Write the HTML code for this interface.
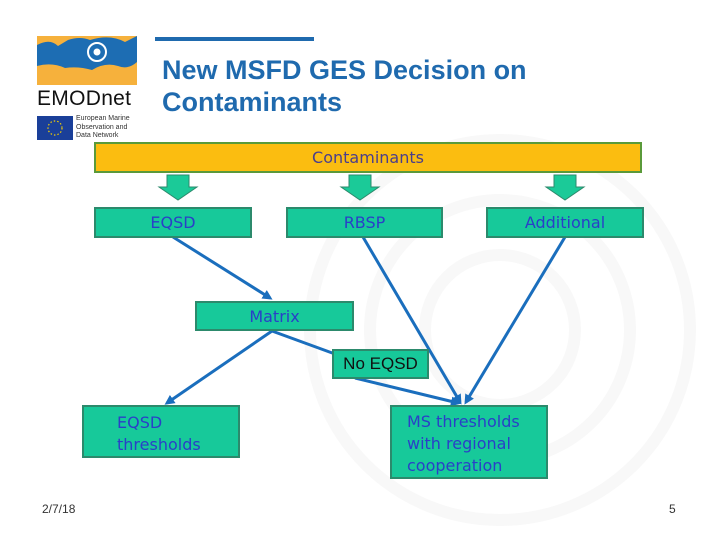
<!DOCTYPE html>
<html><head><meta charset="utf-8"><style>
body{margin:0;width:720px;height:540px;background:#fff;position:relative;overflow:hidden;font-family:"Liberation Sans",sans-serif}
.b{position:absolute;background:#17c99a;border:2px solid #2c8a6c;box-sizing:border-box;color:#2a3fc8;font-family:"DejaVu Sans","Liberation Sans",sans-serif;font-size:16px}
.c{display:flex;align-items:center;justify-content:center}
.t{position:absolute;left:162px;color:#1f6aae;font-weight:bold;font-size:27px;line-height:32px;font-family:"Liberation Sans",Arial,sans-serif}
</style></head><body>
<svg width="720" height="540" style="position:absolute;left:0;top:0">
<g fill="none" stroke="#f8f8f8" stroke-width="12">
<circle cx="500" cy="330" r="190"/><circle cx="500" cy="330" r="130"/><circle cx="500" cy="330" r="75"/>
</g>
<rect x="155" y="37" width="159" height="4" fill="#1f6aae"/>
<path d="M37 36 L137 36 L137 85 L37 85 Z" fill="#f6b13c"/>
<path d="M37 45 Q50 38 58 46 L68 40 Q80 36 90 40 Q110 34 125 42 L137 36 L137 62 Q128 70 118 66 Q105 62 92 70 Q78 66 65 68 Q52 62 37 66 Z" fill="#1d6db3"/>
<circle cx="97" cy="52" r="9" fill="none" stroke="#fff" stroke-width="2"/><circle cx="97" cy="52" r="3.5" fill="#fff"/>
<rect x="37" y="116" width="36" height="24" fill="#1a3f99"/>
<circle cx="55" cy="128" r="7" fill="none" stroke="#f5d000" stroke-width="1.2" stroke-dasharray="1.5 2"/>
<g fill="#1bca98" stroke="#2c8a6c" stroke-width="1">
<path d="M167 175h22v12h8l-19 13l-19-13h8z"/>
<path d="M349 175h22v12h8l-19 13l-19-13h8z"/>
<path d="M554 175h22v12h8l-19 13l-19-13h8z"/>
</g>
<defs><marker id="a" markerWidth="10" markerHeight="10" refX="7" refY="5" orient="auto" markerUnits="userSpaceOnUse"><path d="M0 0L10 5L0 10z" fill="#1a6ebd"/></marker></defs>
<g stroke="#1a6ebd" stroke-width="3" fill="none">
<line x1="173" y1="237" x2="270" y2="298" marker-end="url(#a)"/>
<line x1="272" y1="331" x2="167" y2="403" marker-end="url(#a)"/>
<line x1="272" y1="331" x2="335" y2="354"/>
<line x1="355" y1="378" x2="458" y2="403" marker-end="url(#a)"/>
<line x1="363" y1="237" x2="460" y2="402" marker-end="url(#a)"/>
<line x1="565" y1="237" x2="466" y2="402" marker-end="url(#a)"/>
</g>
</svg>
<div class="t" style="top:54px">New MSFD GES Decision on</div>
<div class="t" style="top:86px">Contaminants</div>
<div style="position:absolute;left:37px;top:87px;font-size:21px;letter-spacing:0.3px;color:#111">EMODnet</div>
<div style="position:absolute;left:76px;top:115px;font-size:7px;line-height:8.5px;color:#333">European Marine<br>Observation and<br>Data Network</div>
<div class="b c" style="left:94px;top:142px;width:548px;height:31px;background:#fbbd10;border-color:#5a9a3a;color:#4a3e8c">Contaminants</div>
<div class="b c" style="left:94px;top:207px;width:158px;height:31px">EQSD</div>
<div class="b c" style="left:286px;top:207px;width:157px;height:31px">RBSP</div>
<div class="b c" style="left:486px;top:207px;width:158px;height:31px">Additional</div>
<div class="b c" style="left:195px;top:301px;width:159px;height:30px">Matrix</div>
<div class="b c" style="left:332px;top:349px;width:97px;height:30px;color:#111;font-family:'Liberation Sans',sans-serif;font-size:17px">No EQSD</div>
<div class="b" style="left:82px;top:405px;width:158px;height:53px;padding:5px 0 0 33px;line-height:22px">EQSD<br>thresholds</div>
<div class="b" style="left:390px;top:405px;width:158px;height:74px;padding:4px 0 0 15px;line-height:22px">MS thresholds<br>with regional<br>cooperation</div>
<div style="position:absolute;left:42px;top:502px;font-size:12px;color:#333">2/7/18</div>
<div style="position:absolute;left:669px;top:502px;font-size:12px;color:#333">5</div>
</body></html>
